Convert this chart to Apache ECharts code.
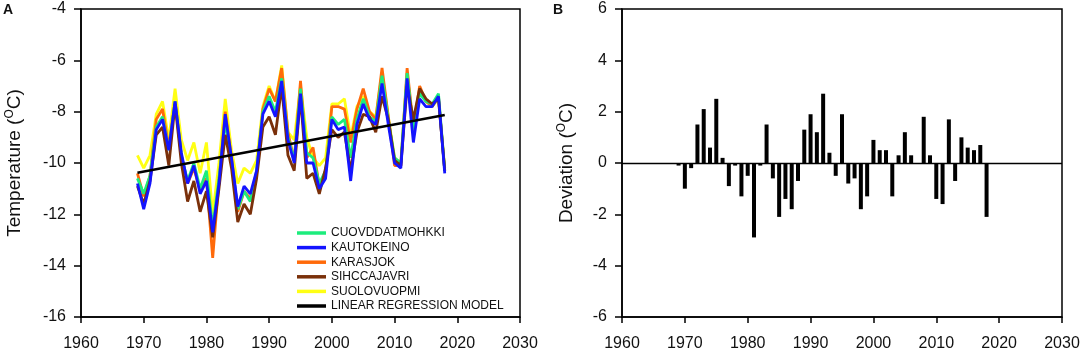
<!DOCTYPE html>
<html>
<head>
<meta charset="utf-8">
<script src="https://cdn.jsdelivr.net/npm/echarts@6/dist/echarts.min.js"></script>
<style>
  html, body { margin: 0; padding: 0; background: #fff; }
  #chart { width: 1084px; height: 352px; }
</style>
</head>
<body>
<div id="chart"></div>
<script>
// 年份 1969-2018
const years = [
  1969, 1970, 1971, 1972, 1973, 1974, 1975, 1976, 1977, 1978,
  1979, 1980, 1981, 1982, 1983, 1984, 1985, 1986, 1987, 1988,
  1989, 1990, 1991, 1992, 1993, 1994, 1995, 1996, 1997, 1998,
  1999, 2000, 2001, 2002, 2003, 2004, 2005, 2006, 2007, 2008,
  2009, 2010, 2011, 2012, 2013, 2014, 2015, 2016, 2017, 2018
];

// 各站年平均气温 (°C)
const cuovddatmohkki = [
  -10.6, -11.2, -10.5, -8.6, -8.2, -9.5, -7.6, -9.7, -10.7, -10.0,
  -11.0, -10.3, -12.5, -10.6, -8.4, -9.9, -11.8, -11.1, -11.5, -10.3,
  -8.0, -7.4, -8.0, -6.7, -9.0, -9.9, -7.1, -9.6, -9.8, -10.8,
  -10.3, -8.2, -8.5, -8.3, -9.8, -8.3, -7.5, -8.2, -8.4, -6.6,
  -8.3, -9.8, -10.0, -6.5, -8.7, -7.3, -7.6, -7.7, -7.3, -10.3
];
const kautokeino = [
  -10.8, -11.8, -10.8, -8.7, -8.3, -9.5, -7.6, -9.6, -10.8, -10.1,
  -11.2, -10.7, -12.7, -10.8, -8.1, -9.8, -11.7, -10.9, -11.2, -10.3,
  -8.1, -7.6, -8.2, -6.8, -9.1, -10.0, -7.3, -10.0, -10.0, -11.0,
  -10.6, -8.3, -8.7, -8.6, -10.7, -8.5, -7.7, -8.3, -8.5, -6.9,
  -8.5, -10.0, -10.2, -6.7, -9.2, -7.5, -7.8, -7.8, -7.4, -10.4
];
const karasjok = [
  -10.4, -11.3, -10.5, -8.3, -7.9, -9.4, -7.6, -9.7, -10.8, -10.2,
  -11.1, -10.6, -13.7, -10.7, -8.0, -9.8, -11.9, -11.1, -11.4, -10.4,
  -7.9, -7.1, -7.6, -6.3, -8.8, -9.9, -6.8, -9.8, -9.4, -10.9,
  -10.4, -7.8, -7.8, -7.9, -9.2, -7.9, -7.1, -8.0, -8.3, -6.3,
  -8.2, -10.1, -10.1, -6.3, -8.6, -7.0, -7.6, -7.8, -7.4, -10.3
];
const sihccajavri = [
  -10.9, -11.6, -10.7, -8.9, -8.6, -10.1, -7.7, -10.0, -11.5, -10.7,
  -11.9, -11.1, -12.9, -11.0, -8.9, -10.2, -12.3, -11.6, -12.0, -10.6,
  -8.6, -8.2, -8.9, -7.0, -9.7, -10.3, -7.4, -10.6, -10.4, -11.2,
  -10.2, -8.7, -9.0, -8.8, -10.3, -8.8, -8.1, -8.2, -8.8, -7.4,
  -8.3, -9.9, -10.1, -7.0, -8.3, -7.1, -7.5, -7.7, -7.5, -10.3
];
const suolovuopmi = [
  -9.7, -10.2, -9.7, -8.1, -7.6, -9.1, -7.1, -9.1, -9.9, -9.2,
  -10.4, -9.2, -12.0, -10.0, -7.5, -9.5, -10.8, -10.2, -10.4, -9.9,
  -7.8, -7.0, -7.6, -6.2, -8.8, -9.1, -7.0, -9.0, -9.8, -10.1,
  -9.8, -7.7, -7.7, -7.5, -9.0, -7.8, -7.4, -8.0, -8.2, -6.5,
  -8.2, -9.8, -10.0, -6.5, -8.8, -7.2, -7.6, -7.8, -7.5, -10.2
];

// 线性回归端点
const regYears = [1969, 2018];
const regValues = [-10.38, -8.13];

// 偏差 (°C)
const deviation = [
  -0.1, -1.0, -0.2, 1.5, 2.1, 0.6, 2.5, 0.2, -0.9, -0.1,
  -1.3, -0.5, -2.9, -0.1, 1.5, -0.6, -2.1, -1.4, -1.8, -0.7,
  1.3, 1.9, 1.2, 2.7, 0.4, -0.5, 1.9, -0.8, -0.6, -1.8,
  -1.3, 0.9, 0.5, 0.5, -1.3, 0.3, 1.2, 0.3, 0.0, 1.8,
  0.3, -1.4, -1.6, 1.7, -0.7, 1.0, 0.6, 0.5, 0.7, -2.1
];

const stationNames = ['CUOVDDATMOHKKI', 'KAUTOKEINO', 'KARASJOK', 'SIHCCAJAVRI', 'SUOLOVUOPMI', 'LINEAR REGRESSION MODEL'];
const stationColors = ['#1cec7c', '#1414ff', '#ff6a0a', '#7a300a', '#ffff14', '#000000'];

const pair = function (vals) {
  return years.map(function (y, i) { return [y, vals[i]]; });
};

const FONT = 'Liberation Sans, Arial, sans-serif';

const xAxisBase = {
  type: 'value', min: 1960, max: 2030, interval: 10,
  axisLine: { show: true, onZero: false, lineStyle: { color: '#000', width: 1.5 } },
  axisTick: { show: true, inside: false, length: 6, lineStyle: { color: '#000', width: 1.5 } },
  axisLabel: {
    color: '#111', fontSize: 16, fontFamily: FONT, margin: 19,
    formatter: function (v) { return String(v); }
  },
  splitLine: { show: false }
};

const yAxisBase = {
  type: 'value', interval: 2,
  nameLocation: 'middle',
  nameTextStyle: {
    color: '#111', fontSize: 19, fontFamily: FONT,
    rich: {
      sup: { fontSize: 12, fontFamily: FONT, color: '#111', verticalAlign: 'top', padding: [0, 0, 9, 0] }
    }
  },
  axisLine: { show: true, onZero: false, lineStyle: { color: '#000', width: 1.5 } },
  axisTick: { show: true, inside: false, length: 7, lineStyle: { color: '#000', width: 1.5 } },
  axisLabel: { color: '#111', fontSize: 16, fontFamily: FONT, margin: 15 },
  splitLine: { show: false }
};

const lineSeries = function (idx, vals) {
  return {
    name: stationNames[idx], type: 'line', xAxisIndex: 0, yAxisIndex: 0,
    data: pair(vals), symbol: 'none', smooth: false,
    lineStyle: { color: stationColors[idx], width: 2.8 },
    itemStyle: { color: stationColors[idx] },
    silent: true
  };
};

const chart = echarts.init(document.getElementById('chart'), null, { renderer: 'canvas' });

chart.setOption({
  animation: false,
  backgroundColor: '#fff',
  textStyle: { fontFamily: FONT },
  grid: [
    { left: 81, top: 9, width: 439, height: 308, outerBoundsMode: 'none', show: true, borderColor: '#000', borderWidth: 1.5, backgroundColor: 'transparent' },
    { left: 622, top: 9, width: 440, height: 308, outerBoundsMode: 'none', show: true, borderColor: '#000', borderWidth: 1.5, backgroundColor: 'transparent' }
  ],
  xAxis: [
    Object.assign({}, xAxisBase, { gridIndex: 0 }),
    Object.assign({}, xAxisBase, { gridIndex: 1 })
  ],
  yAxis: [
    Object.assign({}, yAxisBase, { gridIndex: 0, min: -16, max: -4, name: 'Temperature ({sup|O}C)', nameGap: 56 }),
    Object.assign({}, yAxisBase, { gridIndex: 1, min: -6, max: 6, name: 'Deviation ({sup|O}C)', nameGap: 45 })
  ],
  legend: {
    orient: 'vertical', left: 292, top: 222,
    data: stationNames,
    icon: 'rect', itemWidth: 29, itemHeight: 3.5, itemGap: 2.6,
    selectedMode: false,
    textStyle: { color: '#111', fontSize: 12, fontFamily: FONT, lineHeight: 12, padding: [0, 0, 0, 0] }
  },
  graphic: [
    { type: 'text', left: 3, top: 3, style: { text: 'A', fill: '#111', font: 'bold 14px ' + FONT } },
    { type: 'text', left: 553, top: 3, style: { text: 'B', fill: '#111', font: 'bold 14px ' + FONT } }
  ],
  series: [
    lineSeries(4, suolovuopmi),
    lineSeries(2, karasjok),
    lineSeries(0, cuovddatmohkki),
    lineSeries(3, sihccajavri),
    lineSeries(1, kautokeino),
    {
      name: stationNames[5], type: 'line', xAxisIndex: 0, yAxisIndex: 0,
      data: regYears.map(function (y, i) { return [y, regValues[i]]; }),
      symbol: 'none', lineStyle: { color: '#000', width: 2.6 }, itemStyle: { color: '#000' }, silent: true
    },
    {
      name: 'deviation', type: 'bar', xAxisIndex: 1, yAxisIndex: 1,
      data: pair(deviation), barWidth: 4,
      itemStyle: { color: '#000' }, silent: true,
      markLine: {
        silent: true, symbol: 'none', label: { show: false },
        lineStyle: { color: '#000', width: 1.3, type: 'solid' },
        data: [{ yAxis: 0 }]
      }
    }
  ]
});
</script>
</body>
</html>
